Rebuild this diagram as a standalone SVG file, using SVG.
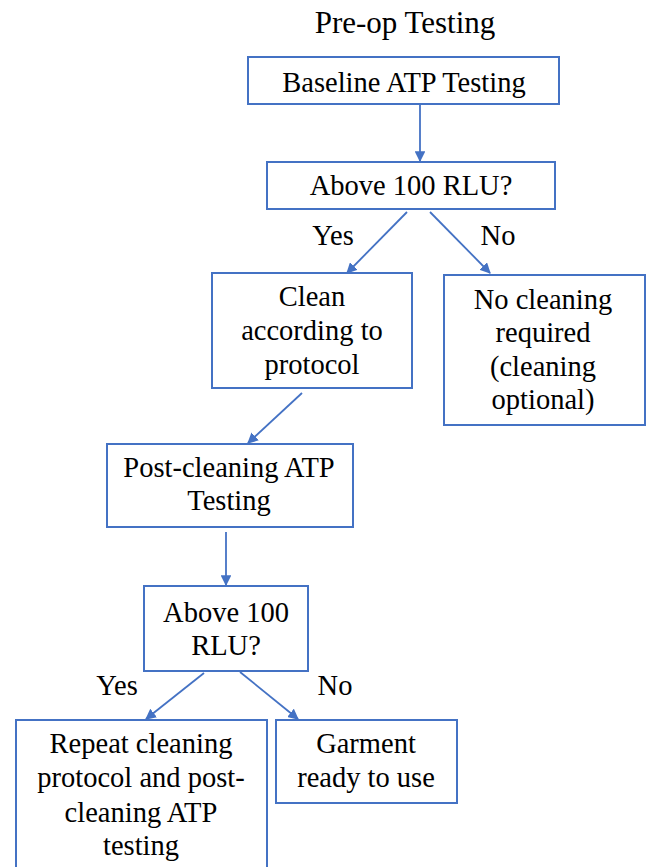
<svg xmlns="http://www.w3.org/2000/svg" width="646" height="867" viewBox="0 0 646 867">
<defs>
<style>
.box{fill:#fff;stroke:#4472C4;stroke-width:2}
.lbl{font-family:'Liberation Serif','Times New Roman',serif;font-size:28.5px;fill:#000;text-anchor:middle}
.ttl{font-size:31px}
.c{stroke:#4472C4;stroke-width:1.8;fill:none;marker-end:url(#ah)}
</style>
<marker id="ah" viewBox="0 0 10 10" refX="9" refY="5" markerWidth="6" markerHeight="6" orient="auto" markerUnits="strokeWidth">
<path d="M0,0 L10,5 L0,10 z" fill="#4472C4"/>
</marker>
</defs>
<rect width="646" height="867" fill="#fff"/>
<text class="lbl ttl" x="405" y="33">Pre-op Testing</text>
<g id="connectors">
<line class="c" x1="420" y1="104" x2="420" y2="161"/>
<line class="c" x1="407" y1="212" x2="347" y2="273"/>
<line class="c" x1="430" y1="212" x2="490" y2="273"/>
<line class="c" x1="302" y1="393" x2="248" y2="443"/>
<line class="c" x1="226" y1="532" x2="226" y2="585"/>
<line class="c" x1="204" y1="673" x2="146" y2="719"/>
<line class="c" x1="240" y1="672" x2="298" y2="719"/>
<text class="lbl" x="333" y="245">Yes</text>
<text class="lbl" x="498" y="245">No</text>
<text class="lbl" x="117" y="695">Yes</text>
<text class="lbl" x="335" y="695">No</text>
</g>
<g id="n1">
<rect class="box" x="248" y="57" width="311" height="47"/>
<text class="lbl" x="404" y="92">Baseline ATP Testing</text>
</g>
<g id="n2">
<rect class="box" x="267" y="162" width="288" height="47"/>
<text class="lbl" x="411" y="195">Above 100 RLU?</text>
</g>
<g id="n3">
<rect class="box" x="212" y="273" width="200" height="115"/>
<text class="lbl" x="312" y="306">Clean</text>
<text class="lbl" x="312" y="340">according to</text>
<text class="lbl" x="312" y="374">protocol</text>
</g>
<g id="n4">
<rect class="box" x="444" y="275" width="201" height="150"/>
<text class="lbl" x="543" y="309">No cleaning</text>
<text class="lbl" x="543" y="342">required</text>
<text class="lbl" x="543" y="376">(cleaning</text>
<text class="lbl" x="543" y="409">optional)</text>
</g>
<g id="n5">
<rect class="box" x="107" y="444" width="246" height="83"/>
<text class="lbl" x="229" y="477">Post-cleaning ATP</text>
<text class="lbl" x="229" y="510">Testing</text>
</g>
<g id="n6">
<rect class="box" x="144" y="586" width="164" height="85"/>
<text class="lbl" x="226" y="622">Above 100</text>
<text class="lbl" x="226" y="655">RLU?</text>
</g>
<g id="n7">
<rect class="box" x="16" y="720" width="251" height="160"/>
<text class="lbl" x="141" y="753">Repeat cleaning</text>
<text class="lbl" x="141" y="787">protocol and post-</text>
<text class="lbl" x="141" y="822">cleaning ATP</text>
<text class="lbl" x="141" y="855">testing</text>
</g>
<g id="n8">
<rect class="box" x="276" y="720" width="181" height="83"/>
<text class="lbl" x="366" y="753">Garment</text>
<text class="lbl" x="366" y="787">ready to use</text>
</g>
</svg>
